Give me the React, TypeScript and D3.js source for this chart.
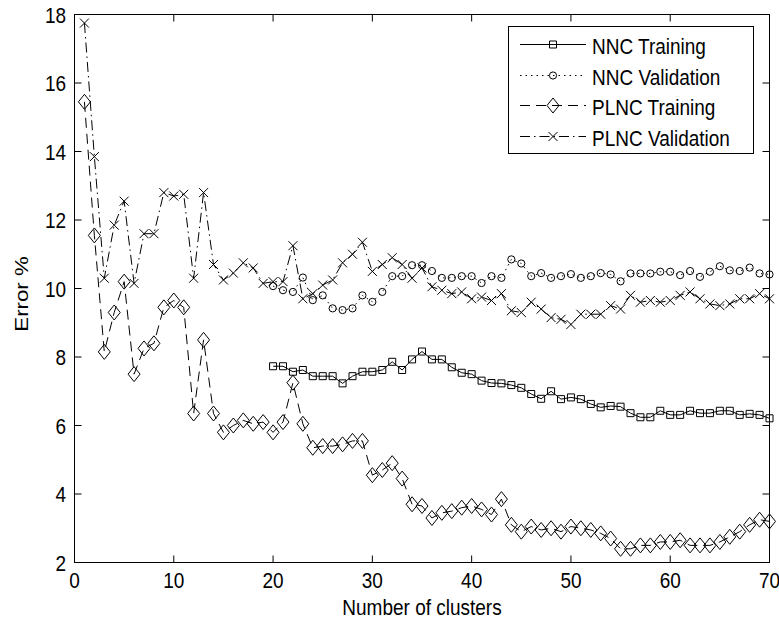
import { useEffect, useRef } from 'react';
import * as d3 from 'd3';

// x = 1..70
const plncVal = [
  17.75, 13.85, 10.3, 11.85, 12.55, 10.15, 11.6, 11.6, 12.8, 12.7,
  12.75, 10.3, 12.8, 10.7, 10.25, 10.45, 10.75, 10.6, 10.15, 10.2,
  10.2, 11.25, 9.7, 9.85, 10.1, 10.25, 10.75, 11.0, 11.35, 10.5,
  10.7, 10.9, 10.7, 10.3, 10.6, 10.05, 9.95, 9.85, 9.9, 9.7,
  9.75, 9.65, 9.85, 9.35, 9.3, 9.6, 9.4, 9.15, 9.1, 8.95,
  9.25, 9.25, 9.25, 9.5, 9.4, 9.8, 9.6, 9.65, 9.6, 9.65,
  9.8, 9.9, 9.7, 9.55, 9.5, 9.55, 9.7, 9.7, 9.85, 9.7,
];
const plncTrain = [
  15.45, 11.55, 8.15, 9.3, 10.2, 7.5, 8.25, 8.4, 9.45, 9.65,
  9.45, 6.35, 8.5, 6.35, 5.8, 6.0, 6.15, 6.05, 6.1, 5.8,
  6.1, 7.25, 6.05, 5.35, 5.4, 5.4, 5.45, 5.55, 5.55, 4.55,
  4.7, 4.9, 4.45, 3.7, 3.65, 3.3, 3.45, 3.5, 3.6, 3.65,
  3.55, 3.4, 3.85, 3.1, 2.9, 3.05, 2.95, 3.0, 2.9, 3.05,
  3.0, 2.95, 2.85, 2.7, 2.4, 2.4, 2.5, 2.5, 2.6, 2.6,
  2.65, 2.5, 2.5, 2.5, 2.6, 2.75, 2.9, 3.1, 3.25, 3.2,
];
// x = 20..70
const nncTrain = [
  7.73, 7.73, 7.57, 7.62, 7.44, 7.44, 7.44, 7.23, 7.44, 7.57,
  7.57, 7.62, 7.86, 7.62, 7.93, 8.16, 7.93, 7.93, 7.7, 7.54,
  7.5, 7.31, 7.24, 7.23, 7.18, 7.1, 6.92, 6.78, 7.0, 6.77,
  6.82, 6.77, 6.63, 6.53, 6.57, 6.55, 6.36, 6.24, 6.24, 6.43,
  6.31, 6.31, 6.43, 6.36, 6.36, 6.43, 6.43, 6.31, 6.34, 6.31, 6.21,
];
const nncVal = [
  10.07, 9.95, 9.9, 10.32, 9.66, 9.8, 9.42, 9.37, 9.42, 9.8,
  9.61, 9.9, 10.36, 10.36, 10.68, 10.68, 10.51, 10.31, 10.31, 10.36,
  10.36, 10.16, 10.36, 10.31, 10.85, 10.73, 10.36, 10.45, 10.31, 10.36,
  10.42, 10.31, 10.36, 10.45, 10.41, 10.21, 10.44, 10.44, 10.44, 10.49,
  10.49, 10.39, 10.51, 10.34, 10.49, 10.65, 10.53, 10.51, 10.61, 10.44, 10.41,
];

const xTicks = [0, 10, 20, 30, 40, 50, 60, 70];
const yTicks = [2, 4, 6, 8, 10, 12, 14, 16, 18];

const W = 779;
const H = 620;
const FONT = '"Liberation Sans", Arial, Helvetica, sans-serif';
const FS = 19;
const STRETCH = 1.17; // glyphs in the original are taller than they are wide

type Marker = 'square' | 'circle' | 'diamond' | 'cross';

function markerPath(kind: Marker, x: number, y: number) {
  switch (kind) {
    case 'square':
      return `M${x - 3.5},${y - 3.5}h7v7h-7Z`;
    case 'circle':
      return `M${x - 3.6},${y}a3.6,3.6 0 1,0 7.2,0a3.6,3.6 0 1,0 -7.2,0Z`;
    case 'diamond':
      return `M${x},${y - 7.5}L${x + 6},${y}L${x},${y + 7.5}L${x - 6},${y}Z`;
    case 'cross':
      return `M${x - 4.5},${y - 4.5}L${x + 4.5},${y + 4.5}M${x - 4.5},${y + 4.5}L${x + 4.5},${y - 4.5}`;
  }
}

const seriesList = [
  { name: 'NNC Training', start: 20, values: nncTrain, dash: null, marker: 'square' as Marker },
  { name: 'NNC Validation', start: 20, values: nncVal, dash: '1.5,4', marker: 'circle' as Marker },
  { name: 'PLNC Training', start: 1, values: plncTrain, dash: '10,6', marker: 'diamond' as Marker },
  { name: 'PLNC Validation', start: 1, values: plncVal, dash: '10,4,1.5,4', marker: 'cross' as Marker },
];

export default function App() {
  const svgRef = useRef<SVGSVGElement>(null);

  useEffect(() => {
    if (!svgRef.current) return;
    const svg = d3.select(svgRef.current);
    svg.selectAll('*').remove();

    const left = 74.5;
    const right = 769.5;
    const top = 14.5;
    const bottom = 562.5;

    const x = d3.scaleLinear().domain([0, 70]).range([left, right]);
    const y = d3.scaleLinear().domain([2, 18]).range([bottom, top]);

    svg.append('rect').attr('width', W).attr('height', H).attr('fill', '#fff');

    const line = d3
      .line<[number, number]>()
      .x((d) => x(d[0]))
      .y((d) => y(d[1]));

    // series
    for (const s of seriesList) {
      const pts: [number, number][] = s.values.map((v, i) => [s.start + i, v]);
      const g = svg.append('g');
      g.append('path')
        .attr('d', line(pts))
        .attr('fill', 'none')
        .attr('stroke', '#000')
        .attr('stroke-width', 1)
        .attr('stroke-dasharray', s.dash);
      g.selectAll('path.m')
        .data(pts)
        .join('path')
        .attr('class', 'm')
        .attr('d', (d) => markerPath(s.marker, x(d[0]), y(d[1])))
        .attr('fill', 'none')
        .attr('stroke', '#000')
        .attr('stroke-width', 1);
    }

    // frame + ticks
    const axis = svg.append('g').attr('stroke', '#000').attr('stroke-width', 1);
    axis
      .append('rect')
      .attr('x', left)
      .attr('y', top)
      .attr('width', right - left)
      .attr('height', bottom - top)
      .attr('fill', 'none');
    const tl = 7;
    for (const t of xTicks) {
      axis.append('line').attr('x1', x(t)).attr('x2', x(t)).attr('y1', bottom).attr('y2', bottom - tl);
      axis.append('line').attr('x1', x(t)).attr('x2', x(t)).attr('y1', top).attr('y2', top + tl);
    }
    for (const t of yTicks) {
      axis.append('line').attr('y1', y(t)).attr('y2', y(t)).attr('x1', left).attr('x2', left + tl);
      axis.append('line').attr('y1', y(t)).attr('y2', y(t)).attr('x1', right).attr('x2', right - tl);
    }

    const text = svg.append('g').attr('font-family', FONT).attr('font-size', FS).attr('fill', '#000');
    const label = (
      tx: number,
      ty: number,
      str: string | number,
      anchor: string,
      rotate = false
    ) =>
      text
        .append('text')
        .attr(
          'transform',
          rotate
            ? `translate(${tx},${ty}) rotate(-90) scale(${STRETCH},1)`
            : `translate(${tx},${ty}) scale(1,${STRETCH})`
        )
        .attr('text-anchor', anchor)
        .text(str);

    for (const t of xTicks) label(x(t), 588, t, 'middle');
    for (const t of yTicks) label(66, y(t) + 8, t, 'end');
    label((left + right) / 2, 615, 'Number of clusters', 'middle');
    label(28, 294, 'Error %', 'middle', true);

    // legend
    const lg = svg.append('g');
    lg.append('rect')
      .attr('x', 508.5)
      .attr('y', 26.5)
      .attr('width', 245)
      .attr('height', 127)
      .attr('fill', '#fff')
      .attr('stroke', '#000');
    seriesList.forEach((s, i) => {
      const ry = Math.round(44 + i * 30.7) + 0.5;
      lg.append('line')
        .attr('x1', 520)
        .attr('x2', 586)
        .attr('y1', ry)
        .attr('y2', ry)
        .attr('stroke', '#000')
        .attr('stroke-dasharray', s.dash);
      lg.append('path')
        .attr('d', markerPath(s.marker, 553, ry))
        .attr('fill', 'none')
        .attr('stroke', '#000');
      lg.append('text')
        .attr('transform', `translate(592, ${ry + 9}) scale(1,${STRETCH})`)
        .attr('font-family', FONT)
        .attr('font-size', FS)
        .text(s.name);
    });
  }, []);

  return (
    <svg
      ref={svgRef}
      width={W}
      height={H}
      viewBox={`0 0 ${W} ${H}`}
      style={{ position: 'absolute', left: 0, top: 0, display: 'block' }}
    />
  );
}
